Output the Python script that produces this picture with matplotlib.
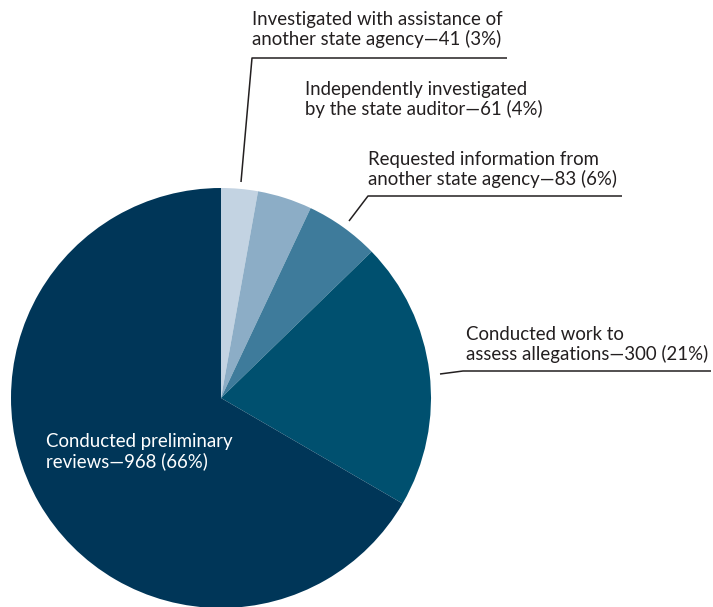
import matplotlib
matplotlib.use("Agg")
import matplotlib.pyplot as plt

labels = [
    "Investigated with assistance of\nanother state agency\u201441 (3%)",
    "Independently investigated\nby the state auditor\u201461 (4%)",
    "Requested information from\nanother state agency\u201483 (6%)",
    "Conducted work to\nassess allegations\u2014300 (21%)",
    "Conducted preliminary\nreviews\u2014968 (66%)",
]
counts = [41, 61, 83, 300, 968]
colors = ["#c3d3e2", "#8cadc6", "#3e7b9b", "#00506f", "#003658"]

W, H = 713, 607
plt.rcParams['font.family'] = ['Lato', 'DejaVu Sans']

fig = plt.figure(figsize=(W / 100, H / 100), dpi=100)
ax = fig.add_axes([0, 0, 1, 1])

cx, cy, r = 221, H - 398, 210
ax.pie(counts, colors=colors, startangle=90, counterclock=False,
       center=(cx, cy), radius=r, frame=True,
       wedgeprops=dict(linewidth=0))
ax.set_xlim(0, W)
ax.set_ylim(0, H)
ax.set_aspect("equal")
ax.axis("off")

txt = "#231f20"
fs = 13.4
# label positions (top-left) in pixel coords from the top
pos = [(252, 11), (305, 81), (368, 151), (466, 326), (46, 433)]
for i, (lab, (x, y)) in enumerate(zip(labels, pos)):
    ax.text(x, H - y, lab, fontsize=fs, color="white" if i == 4 else txt,
            ha="left", va="top", linespacing=1.12)

# leader lines
leaders = [
    [(241, 182), (252, 58), (507, 58)],
    [(349, 221), (368, 196), (622, 196)],
    [(440, 374), (463, 371), (711, 371)],
]
for pts in leaders:
    xs = [p[0] for p in pts]
    ys = [H - p[1] for p in pts]
    ax.plot(xs, ys, color=txt, lw=1.1, solid_capstyle="butt")

fig.savefig("out.png", dpi=100)
